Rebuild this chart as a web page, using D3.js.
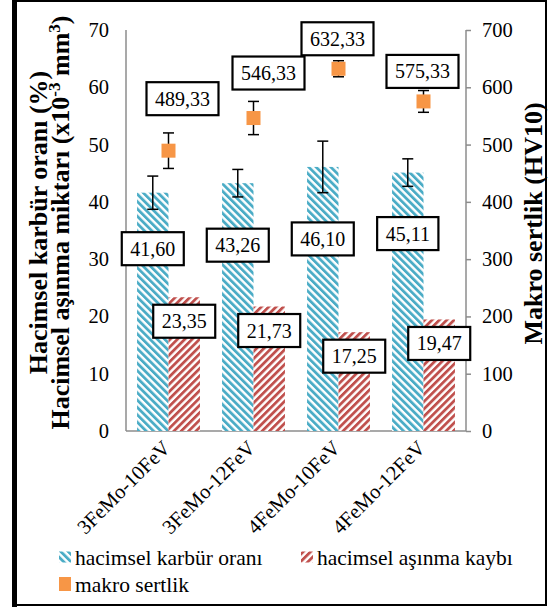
<!DOCTYPE html>
<html>
<head>
<meta charset="utf-8">
<script src="https://cdn.jsdelivr.net/npm/d3@7"></script>
<style>
    body { margin: 0; background: #fff; }
    svg { display: block; }
    svg text { font-family: "Liberation Serif", Tinos, "Times New Roman", Times, "DejaVu Serif", serif !important; fill: #000; }
</style>
</head>
<body>
<div class="charts-div"></div>
<script>
// chart values
const categories = ["3FeMo-10FeV", "3FeMo-12FeV", "4FeMo-10FeV", "4FeMo-12FeV"];
const carbideRatio = [41.60, 43.26, 46.10, 45.11];
const carbideErr = [2.9, 2.4, 4.5, 2.4];
const wearLoss = [23.35, 21.73, 17.25, 19.47];
const hardness = [489.33, 546.33, 632.33, 575.33];
const hardnessErr = [31, 29, 14, 19];
const leftTicks = [0, 10, 20, 30, 40, 50, 60, 70];
const rightTicks = [0, 100, 200, 300, 400, 500, 600, 700];

// label nudges (px), the labels were dragged by hand in the original
const carbideLabelDy = [56, 62, 72, 61];
const hardnessLabelDx = [14, 15, -1, -1];
const hardnessLabelDy = [-52, -45, -30, -30];

const width = 548, height = 609;
const margins = { left: 126, right: 82, top: 30, bottom: 178 };
const COLORS = { blue: "#4bacc6", red: "#c0504d", orange: "#f79646", axis: "#8c8c8c" };
const FONT = "'Liberation Serif', Tinos, 'Times New Roman', Times, 'DejaVu Serif', serif";

const svg = d3.select(".charts-div").append("svg")
    .attr("width", width).attr("height", height)
    .attr("font-family", FONT);

// stripe patterns
const defs = svg.append("defs");
const makePattern = (id, color, angle) => {
    const p = defs.append("pattern")
        .attr("id", id)
        .attr("patternUnits", "userSpaceOnUse")
        .attr("width", 5.2).attr("height", 5.2)
        .attr("patternTransform", `rotate(${angle})`);
    p.append("rect").attr("width", 5.2).attr("height", 5.2).attr("fill", "#fff");
    p.append("rect").attr("width", 2.8).attr("height", 5.2).attr("fill", color);
};
makePattern("blueStripe", COLORS.blue, -45);
makePattern("redStripe", COLORS.red, 45);

// outer frame
svg.append("rect").attr("x", 14).attr("y", 1).attr("width", 532).attr("height", 604)
    .attr("fill", "none").attr("stroke", "#000").attr("stroke-width", 2);
svg.append("line").attr("x1", 14.5).attr("x2", 14.5).attr("y1", 0).attr("y2", 607)
    .attr("stroke", "#000").attr("stroke-width", 5);

const x0 = d3.scaleBand().domain(categories)
    .range([margins.left, width - margins.right])
    .paddingInner(0.26).paddingOuter(0.13);
const x1 = d3.scaleBand().domain(["carbide", "wear"]).range([0, x0.bandwidth()]);
const yLeft = d3.scaleLinear().domain([0, 70]).range([height - margins.bottom, margins.top]);
const yRight = d3.scaleLinear().domain([0, 700]).range([height - margins.bottom, margins.top]);

const xCenter = (i) => x0(categories[i]) + x0.bandwidth() / 2;

// axes
const leftAxis = svg.append("g").attr("transform", `translate(${margins.left},0)`)
    .call(d3.axisLeft(yLeft).tickValues(leftTicks).tickSize(0).tickPadding(17));
const rightAxis = svg.append("g").attr("transform", `translate(${width - margins.right},0)`)
    .call(d3.axisRight(yRight).tickValues(rightTicks).tickSize(5).tickPadding(11));
[leftAxis, rightAxis].forEach((g) => {
    g.attr("font-family", FONT).attr("font-size", 20.5);
    g.select(".domain").attr("stroke", COLORS.axis).attr("stroke-width", 1.5);
    g.selectAll(".tick line").attr("stroke", COLORS.axis).attr("stroke-width", 1.5);
});
leftAxis.select(".domain").attr("d", `M0,${yLeft(0)}V${yLeft(70)}`);
rightAxis.select(".domain").attr("d", `M0,${yRight(0)}V${yRight(700)}`);

svg.append("line")
    .attr("x1", margins.left).attr("x2", width - margins.right)
    .attr("y1", yLeft(0)).attr("y2", yLeft(0))
    .attr("stroke", COLORS.axis).attr("stroke-width", 1.5);

// x labels
svg.append("g").selectAll("text").data(categories).join("text")
    .attr("transform", (d, i) => `translate(${xCenter(i) - 2},${yLeft(0) + 13}) rotate(-45)`)
    .attr("text-anchor", "end")
    .attr("dy", "0.35em")
    .attr("font-size", 20.5)
    .text((d) => d);

// bars
const bars = svg.append("g");
bars.selectAll(".carbide").data(carbideRatio).join("rect")
    .attr("class", "carbide")
    .attr("x", (d, i) => x0(categories[i]) + x1("carbide"))
    .attr("width", x1.bandwidth())
    .attr("y", (d) => yLeft(d))
    .attr("height", (d) => yLeft(0) - yLeft(d))
    .attr("fill", "url(#blueStripe)");
bars.selectAll(".wear").data(wearLoss).join("rect")
    .attr("class", "wear")
    .attr("x", (d, i) => x0(categories[i]) + x1("wear"))
    .attr("width", x1.bandwidth())
    .attr("y", (d) => yLeft(d))
    .attr("height", (d) => yLeft(0) - yLeft(d))
    .attr("fill", "url(#redStripe)");

// error bars
const drawErrorBar = (g, cx, yTop, yBottom) => {
    g.append("line").attr("x1", cx).attr("x2", cx).attr("y1", yTop).attr("y2", yBottom);
    g.append("line").attr("x1", cx - 5.5).attr("x2", cx + 5.5).attr("y1", yTop).attr("y2", yTop);
    g.append("line").attr("x1", cx - 5.5).attr("x2", cx + 5.5).attr("y1", yBottom).attr("y2", yBottom);
};
const errG = svg.append("g").attr("stroke", "#000").attr("stroke-width", 1.5);
carbideRatio.forEach((v, i) => {
    const cx = x0(categories[i]) + x1("carbide") + x1.bandwidth() / 2;
    drawErrorBar(errG, cx, yLeft(v + carbideErr[i]), yLeft(v - carbideErr[i]));
});
hardness.forEach((v, i) => {
    drawErrorBar(errG, xCenter(i), yRight(v + hardnessErr[i]), yRight(v - hardnessErr[i]));
});

// hardness markers
svg.append("g").selectAll("rect").data(hardness).join("rect")
    .attr("x", (d, i) => xCenter(i) - 7)
    .attr("y", (d) => yRight(d) - 7)
    .attr("width", 14).attr("height", 14)
    .attr("fill", COLORS.orange);

// boxed data labels
const fmt = (v) => v.toFixed(2).replace(".", ",");
const boxLabel = (g, cx, cy, txt) => {
    const lg = g.append("g").attr("transform", `translate(${cx},${cy})`);
    const rect = lg.append("rect").attr("fill", "#fff").attr("stroke", "#000").attr("stroke-width", 2.2);
    const t = lg.append("text").attr("text-anchor", "middle").attr("dy", "0.35em")
        .attr("font-size", 20).text(txt);
    const w = t.node().getComputedTextLength() + 17;
    rect.attr("x", -w / 2).attr("y", -16.5).attr("width", w).attr("height", 33);
};
const labels = svg.append("g");
carbideRatio.forEach((v, i) => {
    const cx = x0(categories[i]) + x1("carbide") + x1.bandwidth() / 2;
    boxLabel(labels, cx, yLeft(v) + carbideLabelDy[i], fmt(v));
});
wearLoss.forEach((v, i) => {
    const cx = x0(categories[i]) + x1("wear") + x1.bandwidth() / 2;
    boxLabel(labels, cx, yLeft(v) + 24, fmt(v));
});
hardness.forEach((v, i) => {
    boxLabel(labels, xCenter(i) + hardnessLabelDx[i], yRight(v) + hardnessLabelDy[i], fmt(v));
});

// axis titles
const midY = (yLeft(0) + yLeft(70)) / 2 - 8;
svg.append("text")
    .attr("transform", `translate(47,${midY}) rotate(-90)`)
    .attr("text-anchor", "middle")
    .attr("font-size", 26).attr("font-weight", "bold")
    .text("Hacimsel karbür oranı (%)");
const t2 = svg.append("text")
    .attr("transform", `translate(69,${midY}) rotate(-90)`)
    .attr("text-anchor", "middle")
    .attr("font-size", 26).attr("font-weight", "bold");
t2.append("tspan").text("Hacimsel aşınma miktarı (x10");
t2.append("tspan").attr("dy", -9).attr("font-size", 17).text("-3");
t2.append("tspan").attr("dy", 9).text(" mm");
t2.append("tspan").attr("dy", -9).attr("font-size", 17).text("3");
t2.append("tspan").attr("dy", 9).text(")");

svg.append("text")
    .attr("transform", `translate(542,${midY + 1}) rotate(-90)`)
    .attr("text-anchor", "middle")
    .attr("font-size", 26).attr("font-weight", "bold")
    .text("Makro sertlik (HV10)");

// legend
const legend = svg.append("g");
const legendItems = [
    { name: "hacimsel karbür oranı", fill: "url(#blueStripe)", x: 59, y: 557, h: 11 },
    { name: "hacimsel aşınma kaybı", fill: "url(#redStripe)", x: 301, y: 557, h: 11 },
    { name: "makro sertlik", fill: COLORS.orange, x: 59, y: 584, h: 14 }
];
legendItems.forEach((d) => {
    legend.append("rect").attr("x", d.x).attr("y", d.y - d.h / 2).attr("width", 12).attr("height", d.h).attr("fill", d.fill);
    legend.append("text").attr("x", d.x + 16).attr("y", d.y).attr("dy", "0.35em")
        .attr("font-size", 21.5).text(d.name);
});
</script>
</body>
</html>
